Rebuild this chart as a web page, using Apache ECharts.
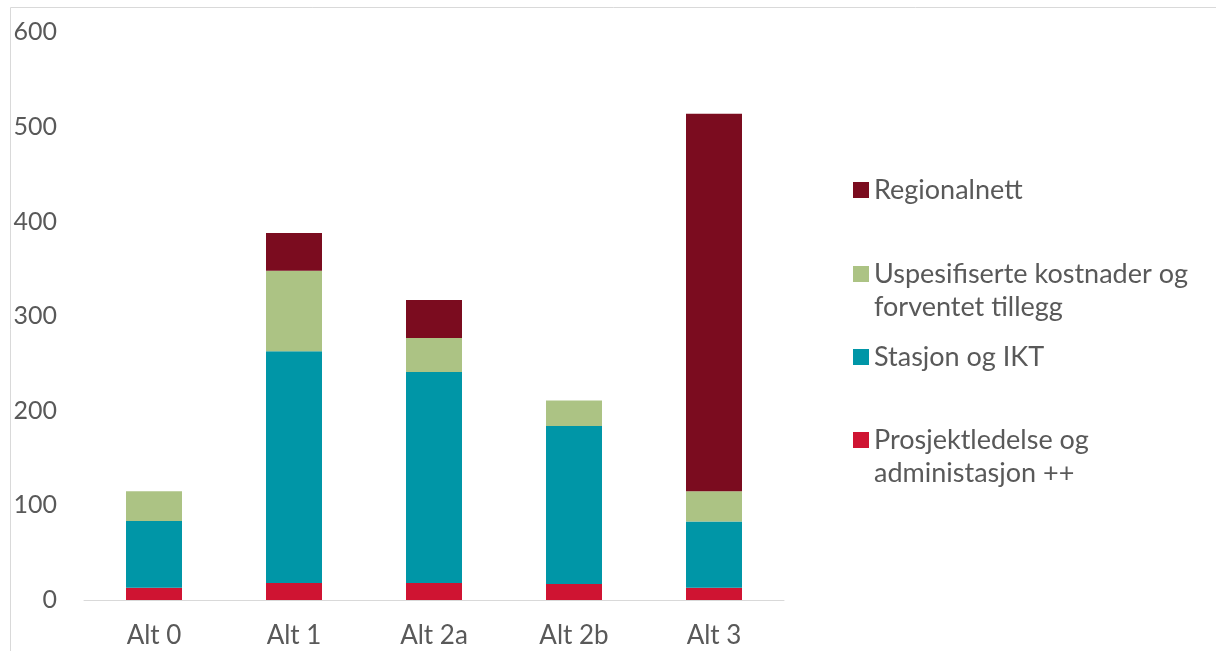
<!DOCTYPE html>
<html>
<head>
<meta charset="utf-8">
<script src="https://cdn.jsdelivr.net/npm/echarts@6/dist/echarts.min.js"></script>
<style>html,body{margin:0;padding:0;background:#fff}#c{width:1216px;height:651px}</style>
</head>
<body>
<div id="c"></div>
<script>
const categories = ['Alt 0', 'Alt 1', 'Alt 2a', 'Alt 2b', 'Alt 3'];
const prosjekt = [13, 18, 18, 17, 13];
const stasjon = [70.5, 245, 223, 167, 70];
const uspes = [31.5, 85, 36, 27, 32];
const regional = [0, 40, 40, 0, 399];
const yTicks = { min: 0, max: 600, interval: 100 };

const FONT = 'Lato';
const TXT = '#595959';
const chart = echarts.init(document.getElementById('c'));

function legendItem(name, top) {
  return {
    data: [name], orient: 'vertical', left: 853, top: top, padding: 0,
    itemWidth: 16, itemHeight: 16, itemGap: 0, icon: 'rect',
    textStyle: { fontFamily: FONT, fontSize: 27, color: TXT, lineHeight: 33 },
    formatter: function (n) {
      if (n === 'Uspesifiserte kostnader og forventet tillegg') return '\nUspesifiserte kostnader og\nforventet tillegg';
      if (n === 'Prosjektledelse og administasjon ++') return '\nProsjektledelse og\nadministasjon ++';
      return n;
    },
    selectedMode: false
  };
}

chart.setOption({
  animation: false,
  textStyle: { fontFamily: FONT },
  graphic: [{ type: 'rect', shape: { x: 10.5, y: 7.5, width: 1400, height: 800 }, style: { fill: 'none', stroke: '#D9D9D9', lineWidth: 1 }, silent: true }],
  grid: { left: 84, width: 700, top: 32.4, height: 567.6 },
  legend: [
    legendItem('Regionalnett', 173.5),
    legendItem('Uspesifiserte kostnader og forventet tillegg', 224.5),
    legendItem('Stasjon og IKT', 340.5),
    legendItem('Prosjektledelse og administasjon ++', 390.5)
  ],
  xAxis: {
    type: 'category', data: categories,
    axisLine: { lineStyle: { color: '#D9D9D9', width: 1 } },
    axisTick: { show: false },
    axisLabel: { fontFamily: FONT, fontSize: 26, color: TXT, margin: 23 }
  },
  yAxis: {
    type: 'value', min: yTicks.min, max: yTicks.max, interval: yTicks.interval,
    splitLine: { show: false }, axisLine: { show: false }, axisTick: { show: false },
    axisLabel: { fontFamily: FONT, fontSize: 25, color: TXT, margin: 27 }
  },
  series: [
    { name: 'Prosjektledelse og administasjon ++', type: 'bar', stack: 's', data: prosjekt, barWidth: 56, itemStyle: { color: '#CF1432' } },
    { name: 'Stasjon og IKT', type: 'bar', stack: 's', data: stasjon, barWidth: 56, itemStyle: { color: '#0096A7' } },
    { name: 'Uspesifiserte kostnader og forventet tillegg', type: 'bar', stack: 's', data: uspes, barWidth: 56, itemStyle: { color: '#ACC384' } },
    { name: 'Regionalnett', type: 'bar', stack: 's', data: regional, barWidth: 56, itemStyle: { color: '#7B0C1F' } }
  ]
});
</script>
</body>
</html>
